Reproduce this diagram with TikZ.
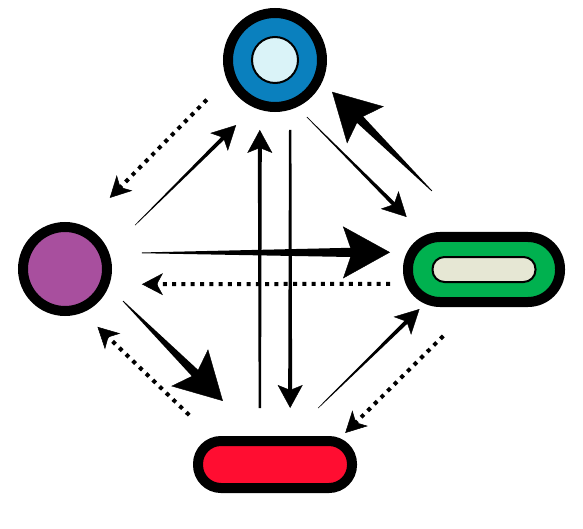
\documentclass[tikz,border=0pt]{standalone}
\usepackage{xcolor}
\usepackage{tikz}
\usetikzlibrary{arrows.meta,calc}

\definecolor{ringblue}{HTML}{0A80BE}
\definecolor{ringcore}{HTML}{DAF3F8}
\definecolor{discpurple}{HTML}{A84F9E}
\definecolor{pillgreen}{HTML}{00B14F}
\definecolor{pillcore}{HTML}{E6E7D4}
\definecolor{barred}{HTML}{FF0D31}

%% tapered connector: [kind]{from}{to}{trim at start}{trim at end}
\newcommand\taperarrow[5][fine arr]{%
  \begin{scope}[#1]
    \coordinate (tpa) at ($(#2)!#4!(#3)$);
    \coordinate (tpb) at ($(#3)!#5!(#2)$);
    \coordinate (tpc) at ($(tpb)!\tpcut!(tpa)$);
    \fill ($(tpa)!\tpwa!90:(tpc)$) -- ($(tpc)!\tpwb!-90:(tpa)$)
      -- ($(tpc)!\tpwb!90:(tpa)$) -- ($(tpa)!\tpwa!-90:(tpc)$) -- cycle;
    \draw[line width=0.4pt, tptip] (tpc) -- (tpb);
  \end{scope}}

\begin{document}
\begin{tikzpicture}[
  x=1pt, y=-1pt,
  hub/.style={circle, draw, line width=10pt, fill=#1, inner sep=0pt},
  slot/.style={draw, line width=10pt, fill=#1, inner sep=0pt},
  core/.style={draw, line width=2pt, fill=#1, inner sep=0pt},
  fine arr/.style={/utils/exec={\def\tpwa{0.3pt}\def\tpwb{2.1pt}\def\tpcut{12pt}},
    tptip/.style={-{Stealth[length=24pt,width=25pt,inset=6pt]}}},
  bold arr/.style={/utils/exec={\def\tpwa{0.4pt}\def\tpwb{4.8pt}\def\tpcut{30pt}},
    tptip/.style={-{Stealth[length=47pt,width=52pt,inset=9pt]}}},
  stem arr/.style={/utils/exec={\def\tpwa{1.2pt}\def\tpwb{2pt}\def\tpcut{12pt}},
    tptip/.style={-{Stealth[length=23pt,width=25pt,inset=5pt]}}},
  dotarr/.style={line width=4pt, dash pattern=on 4pt off 5.3pt,
    -{Stealth[length=21pt,width=22pt,inset=6pt,line width=0.5pt]}},
]
\useasboundingbox (0,0) rectangle (583,529);

%% ─── Nodes ────────────────────────────────────────────────────────────────
\node[hub=ringblue, minimum size=94pt]     (ring)  at (275,60)  {};
\node[core=ringcore, circle, minimum size=46pt] (ringc) at (ring) {};
\node[hub=discpurple, minimum size=84pt]   (disc)  at (65,269)  {};
\node[slot=pillgreen, minimum width=152pt, minimum height=65pt,
      rounded corners=32pt]                (pill)  at (484,269.5) {};
\node[core=pillcore, minimum width=103pt, minimum height=25pt,
      rounded corners=12pt]                (pillc) at (pill) {};
\node[slot=barred, minimum width=154pt, minimum height=47pt,
      rounded corners=23pt]                (bar)   at (275,464.5) {};

%% ─── Solid (tapered) connectors ───────────────────────────────────────────
\taperarrow[fine arr]{disc.22}{ring.246}{37.3pt}{25pt}
\taperarrow[fine arr]{ring.295}{pill.149}{14pt}{21.2pt}
\taperarrow[bold arr]{pill.106}{ring.335}{58.3pt}{14pt}
\taperarrow[fine arr]{bar.63}{pill.211}{40pt}{2.9pt}
\taperarrow[bold arr]{disc.338}{bar.121}{20.4pt}{49.5pt}
\taperarrow[bold arr]{disc.20}{pill.168}{32.8pt}{13pt}
\taperarrow[stem arr]{bar.118}{ring.253}{28pt}{20.2pt}
\taperarrow[stem arr]{ring.287}{bar.62}{20.2pt}{28pt}

%% ─── Dotted connectors ────────────────────────────────────────────────────
\draw[dotarr, shorten <=13pt,   shorten >=32.5pt] (pill.190) -- (disc.341);
\draw[dotarr, shorten <=28.4pt, shorten >=38.7pt] (ring.202) -- (disc.68);
\draw[dotarr, shorten <=30.2pt, shorten >=20.6pt] (bar.156)  -- (disc.292);
\draw[dotarr, shorten <=41.2pt, shorten >=4.3pt]  (pill.253) -- (bar.23);

\end{tikzpicture}
\end{document}
